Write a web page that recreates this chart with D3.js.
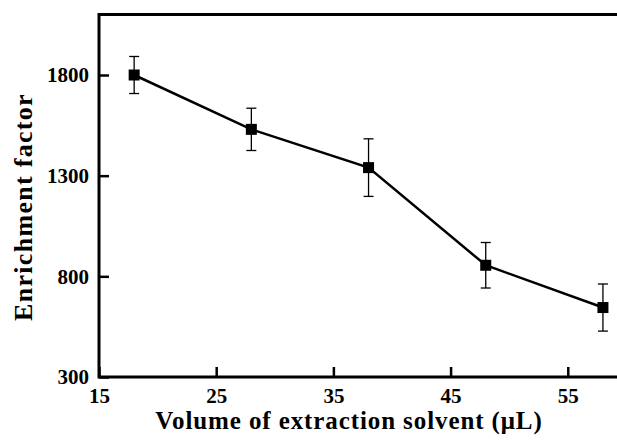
<!DOCTYPE html>
<html>
<head>
<meta charset="utf-8">
<script src="https://cdn.jsdelivr.net/npm/d3@7"></script>
<style>
html,body{margin:0;padding:0;background:#fff;}
svg{display:block;}
</style>
</head>
<body>
<script>
const volumes = [18, 28, 38, 48, 58];
const enrichment = [1800, 1530, 1340, 855, 645];
const errors = [92, 105, 143, 113, 117];
const xTicks = [15, 25, 35, 45, 55];
const yTicks = [300, 800, 1300, 1800];
const xTitle = "Volume of extraction solvent (\u03BCL)";
const yTitle = "Enrichment factor";

(function () {
const W = 617, H = 442;
const mLeft = 99, mRight = 617, mTop = 14.6, mBottom = 377;
const svg = d3.select("body").append("svg").attr("width", W).attr("height", H);
const font = "'Liberation Serif','Times New Roman',serif";

const x = d3.scaleLinear().domain([15, 59.2]).range([mLeft, mRight]);
const y = d3.scaleLinear().domain([300, 2100]).range([mBottom, mTop]);

// x axis
const xAxis = svg.append("g").attr("transform", `translate(0,${mBottom})`)
  .call(d3.axisBottom(x).tickValues(xTicks).tickSize(-10).tickPadding(11).tickFormat(d3.format("d")));
xAxis.select(".domain").remove();
xAxis.selectAll(".tick line").attr("stroke", "#000").attr("stroke-width", 2.5);
xAxis.selectAll(".tick text").attr("font-family", font).attr("font-weight", "bold")
  .attr("font-size", 21).attr("fill", "#000");

// y axis
const yAxis = svg.append("g").attr("transform", `translate(${mLeft},0)`)
  .call(d3.axisLeft(y).tickValues(yTicks).tickSize(-10).tickPadding(10).tickFormat(d3.format("d")));
yAxis.select(".domain").remove();
yAxis.selectAll(".tick line").attr("stroke", "#000").attr("stroke-width", 2.5);
yAxis.selectAll(".tick text").attr("font-family", font).attr("font-weight", "bold")
  .attr("font-size", 21).attr("fill", "#000");

// frame: left, bottom, top (no right)
svg.append("path")
  .attr("d", `M${mRight},${mTop}H${mLeft}V${mBottom}H${mRight}`)
  .attr("fill", "none").attr("stroke", "#000").attr("stroke-width", 3);

const pts = volumes.map((v, i) => ({x: v, y: enrichment[i], e: errors[i]}));

// error bars
const eb = svg.append("g").attr("stroke", "#000").attr("stroke-width", 1.3);
pts.forEach(p => {
  const cx = x(p.x);
  eb.append("line").attr("x1", cx).attr("x2", cx).attr("y1", y(p.y + p.e)).attr("y2", y(p.y - p.e));
  eb.append("line").attr("x1", cx - 5).attr("x2", cx + 5).attr("y1", y(p.y + p.e)).attr("y2", y(p.y + p.e));
  eb.append("line").attr("x1", cx - 5).attr("x2", cx + 5).attr("y1", y(p.y - p.e)).attr("y2", y(p.y - p.e));
});

// line
svg.append("path").datum(pts)
  .attr("d", d3.line().x(d => x(d.x)).y(d => y(d.y)))
  .attr("fill", "none").attr("stroke", "#000").attr("stroke-width", 2.5);

// markers
const s = 11;
svg.append("g").selectAll("rect").data(pts).join("rect")
  .attr("x", d => x(d.x) - s / 2).attr("y", d => y(d.y) - s / 2)
  .attr("width", s).attr("height", s).attr("fill", "#000");

// titles
svg.append("text").attr("x", 349).attr("y", 429).attr("text-anchor", "middle")
  .attr("font-family", font).attr("font-weight", "bold").attr("font-size", 25)
  .attr("fill", "#000").attr("letter-spacing", 0.9).text(xTitle);
svg.append("text").attr("transform", "translate(32,207) rotate(-90)").attr("text-anchor", "middle")
  .attr("font-family", font).attr("font-weight", "bold").attr("font-size", 26)
  .attr("fill", "#000").attr("letter-spacing", 1.3).text(yTitle);
})();
</script>
</body>
</html>
